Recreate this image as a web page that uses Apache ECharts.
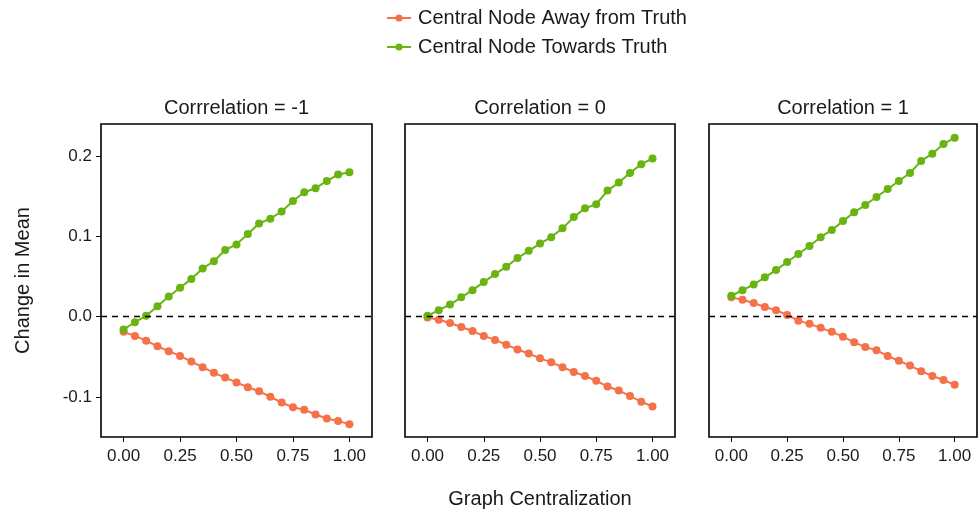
<!DOCTYPE html>
<html>
<head>
<meta charset="utf-8">
<title>Change in Mean by Graph Centralization</title>
<script src="https://cdn.jsdelivr.net/npm/echarts@6/dist/echarts.min.js"></script>
<style>
  html, body { margin: 0; padding: 0; background: #ffffff; }
  #chart { width: 980px; height: 514px; }
</style>
</head>
<body>
<div id="chart"></div>
<script>
// Graph centralization values (x) shared by every panel
const centralization = [0, 0.05, 0.1, 0.15, 0.2, 0.25, 0.3, 0.35, 0.4, 0.45, 0.5,
                        0.55, 0.6, 0.65, 0.7, 0.75, 0.8, 0.85, 0.9, 0.95, 1];

const seriesNames = ['Central Node Away from Truth', 'Central Node Towards Truth'];
const panelTitles = ['Corrrelation = -1', 'Correlation = 0', 'Correlation = 1'];

// Correlation = -1
const awayNeg = [-0.019, -0.024, -0.030, -0.037, -0.043, -0.049, -0.056, -0.063, -0.070, -0.076, -0.082,
                 -0.088, -0.093, -0.100, -0.107, -0.113, -0.116, -0.122, -0.127, -0.130, -0.134];
const towardsNeg = [-0.016, -0.007, 0.001, 0.013, 0.025, 0.036, 0.047, 0.060, 0.069, 0.083, 0.090,
                    0.103, 0.116, 0.122, 0.131, 0.144, 0.155, 0.160, 0.169, 0.177, 0.180];

// Correlation = 0
const awayZero = [-0.001, -0.004, -0.008, -0.013, -0.018, -0.024, -0.029, -0.035, -0.041, -0.046, -0.052,
                  -0.057, -0.063, -0.069, -0.074, -0.080, -0.087, -0.092, -0.099, -0.106, -0.112];
const towardsZero = [0.001, 0.008, 0.015, 0.024, 0.033, 0.043, 0.053, 0.062, 0.073, 0.082, 0.091,
                     0.099, 0.110, 0.124, 0.135, 0.140, 0.157, 0.167, 0.179, 0.190, 0.197];

// Correlation = 1
const awayPos = [0.024, 0.021, 0.017, 0.012, 0.008, 0.002, -0.005, -0.009, -0.014, -0.019, -0.025,
                 -0.032, -0.038, -0.042, -0.049, -0.055, -0.061, -0.068, -0.074, -0.079, -0.085];
const towardsPos = [0.026, 0.033, 0.040, 0.049, 0.058, 0.068, 0.078, 0.088, 0.099, 0.108, 0.119,
                    0.130, 0.139, 0.149, 0.159, 0.169, 0.179, 0.194, 0.203, 0.215, 0.223];

// Axis ticks
const xTicks = [0, 0.25, 0.5, 0.75, 1];
const yTicks = [-0.1, 0, 0.1, 0.2];

const awayColor = '#F4714A';
const towardsColor = '#6AB412';
const textColor = '#1a1a1a';
const fontFamily = '"Liberation Sans", Arial, Helvetica, sans-serif';

// Panel geometry
const panelTop = 124;
const panelHeight = 313;
const panels = [
  { left: 101, width: 271 },
  { left: 405, width: 270 },
  { left: 709, width: 268 }
];
const panelData = [
  [awayNeg, towardsNeg],
  [awayZero, towardsZero],
  [awayPos, towardsPos]
];

const grids = panels.map(p => ({
  left: p.left, top: panelTop, width: p.width, height: panelHeight,
  show: true, borderColor: '#000', borderWidth: 1.6, backgroundColor: '#fff',
  containLabel: false
}));

const xAxes = panels.map((p, i) => ({
  type: 'value', gridIndex: i, min: -0.1, max: 1.1, position: 'bottom',
  axisLine: { show: false, onZero: false },
  splitLine: { show: false },
  axisTick: { show: true, length: 5, lineStyle: { color: '#000', width: 1 }, customValues: xTicks },
  axisLabel: {
    show: true, margin: 11, fontSize: 17, color: textColor, fontFamily: fontFamily,
    customValues: xTicks, formatter: v => v.toFixed(2)
  },
  name: i === 1 ? 'Graph Centralization' : '',
  nameLocation: 'middle', nameGap: 52,
  nameTextStyle: { fontSize: 20, color: textColor, fontFamily: fontFamily }
}));

const yAxes = panels.map((p, i) => ({
  type: 'value', gridIndex: i, min: -0.150, max: 0.240, position: 'left',
  axisLine: { show: false, onZero: false },
  splitLine: { show: false },
  axisTick: { show: i === 0, length: 5, lineStyle: { color: '#000', width: 1 }, customValues: yTicks },
  axisLabel: {
    show: i === 0, margin: 9, fontSize: 17, color: textColor, fontFamily: fontFamily,
    customValues: yTicks, formatter: v => v.toFixed(1)
  },
  name: i === 0 ? 'Change in Mean' : '',
  nameLocation: 'middle', nameGap: 68, nameRotate: 90,
  nameTextStyle: { fontSize: 20, color: textColor, fontFamily: fontFamily }
}));

const series = [];
panelData.forEach((pair, i) => {
  pair.forEach((vals, k) => {
    const color = k === 0 ? awayColor : towardsColor;
    const s = {
      type: 'line', name: seriesNames[k],
      xAxisIndex: i, yAxisIndex: i,
      data: centralization.map((x, j) => [x, vals[j]]),
      symbol: 'circle', symbolSize: 8, showSymbol: true,
      lineStyle: { width: 2, color: color },
      itemStyle: { color: color },
      z: 3 + k,
      animation: false, silent: true
    };
    if (k === 0) {
      // dashed reference line at zero
      s.markLine = {
        silent: true, symbol: 'none', animation: false,
        label: { show: false },
        lineStyle: { type: [6, 5], color: '#000', width: 1.3 },
        data: [{ yAxis: 0 }]
      };
    }
    series.push(s);
  });
});

const stripTitles = panels.map((p, i) => ({
  type: 'text',
  x: p.left + p.width / 2, y: 108,
  style: {
    text: panelTitles[i], fill: textColor,
    font: '20px ' + fontFamily,
    textAlign: 'center', textVerticalAlign: 'middle'
  }
}));

const chart = echarts.init(document.getElementById('chart'), null, { renderer: 'canvas' });
chart.setOption({
  backgroundColor: '#ffffff',
  animation: false,
  legend: {
    orient: 'vertical', left: 381, top: 3,
    itemWidth: 24, itemHeight: 9, itemGap: 9,
    data: seriesNames,
    textStyle: { fontSize: 20, color: textColor, fontFamily: fontFamily, padding: [0, 0, 0, 2] }
  },
  grid: grids,
  xAxis: xAxes,
  yAxis: yAxes,
  series: series,
  graphic: stripTitles
});
</script>
</body>
</html>
